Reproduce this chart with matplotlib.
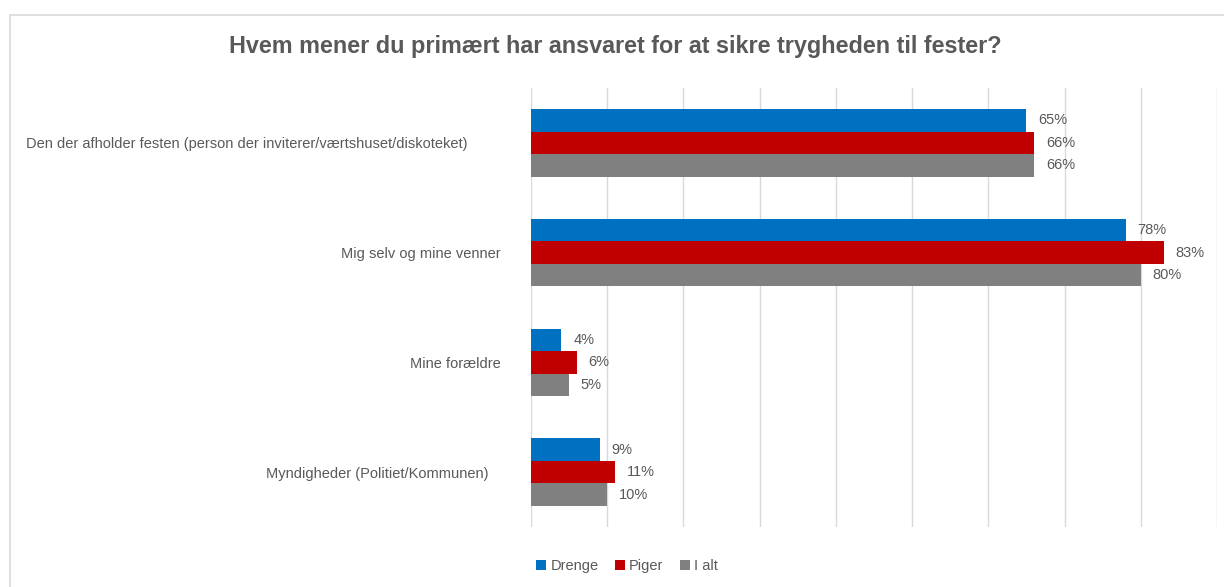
import matplotlib
matplotlib.use("Agg")
import matplotlib.pyplot as plt
import matplotlib.transforms as mtransforms
from matplotlib.patches import Rectangle
import numpy as np

categories = [
    "Den der afholder festen (person der inviterer/værtshuset/diskoteket)",
    "Mig selv og mine venner",
    "Mine forældre",
    "Myndigheder (Politiet/Kommunen)",
]
series_names = ["Drenge", "Piger", "I alt"]
drenge = [65, 78, 4, 9]
piger = [66, 83, 6, 11]
i_alt = [66, 80, 5, 10]
title = "Hvem mener du primært har ansvaret for at sikre trygheden til fester?"

colors = ["#0070C0", "#C00000", "#808080"]
text_color = "#595959"
grid_color = "#D9D9D9"
FONT = ["Liberation Sans Narrow", "Liberation Sans", "DejaVu Sans"]
plt.rcParams["font.family"] = FONT

W, H = 1224, 587
fig = plt.figure(figsize=(W / 100, H / 100), dpi=100)
ax = fig.add_axes([531 / W, 1 - 527 / H, (1217 - 531) / W, (527 - 88) / H])

# outer chart border
fig.patches.append(Rectangle((10 / W, -0.2), 1.2, 1 - 15 / H + 0.2,
                             transform=fig.transFigure, fill=False,
                             edgecolor=grid_color, linewidth=1.2, clip_on=False))

y = np.arange(len(categories))
bh = 0.205
offsets = [-bh, 0, bh]
for vals, name, col, off in zip([drenge, piger, i_alt], series_names, colors, offsets):
    bars = ax.barh(y + off, vals, height=bh, color=col, label=name, zorder=3)
    for b, v in zip(bars, vals):
        ax.annotate(f"{v}%", xy=(b.get_width(), b.get_y() + b.get_height() / 2),
                    xytext=(8.5, 0), textcoords="offset points",
                    ha="left", va="center", fontsize=10.5, color=text_color,
                    zorder=4)

ax.set_xlim(0, 90)
ax.set_ylim(3.5, -0.5)
ax.set_xticks(np.arange(0, 91, 10))
ax.tick_params(axis="x", which="both", bottom=False, labelbottom=False)
ax.grid(axis="x", color=grid_color, linewidth=1, zorder=0)
for s in ax.spines.values():
    s.set_visible(False)

ax.set_yticks(y)
ax.set_yticklabels(categories, fontsize=10.5, color=text_color)
ax.tick_params(axis="y", length=0, pad=21.6)
label_shift_px = [-34, 0, 0, -13]
for lab, dx in zip(ax.get_yticklabels(), label_shift_px):
    lab.set_transform(lab.get_transform() + mtransforms.ScaledTranslation(dx / 100, 0, fig.dpi_scale_trans))

fig.text(0.5025, 1 - 47 / H, title, ha="center", va="center",
         fontsize=16.8, fontweight="bold", color=text_color)

leg = fig.legend(loc="center", bbox_to_anchor=(627 / W, 1 - 566 / H), ncol=3,
                 frameon=False, fontsize=10.5, handlelength=0.7, handleheight=0.7,
                 handletextpad=0.3, columnspacing=1.1, labelcolor=text_color)

fig.savefig("out.png", dpi=100, facecolor="white")
